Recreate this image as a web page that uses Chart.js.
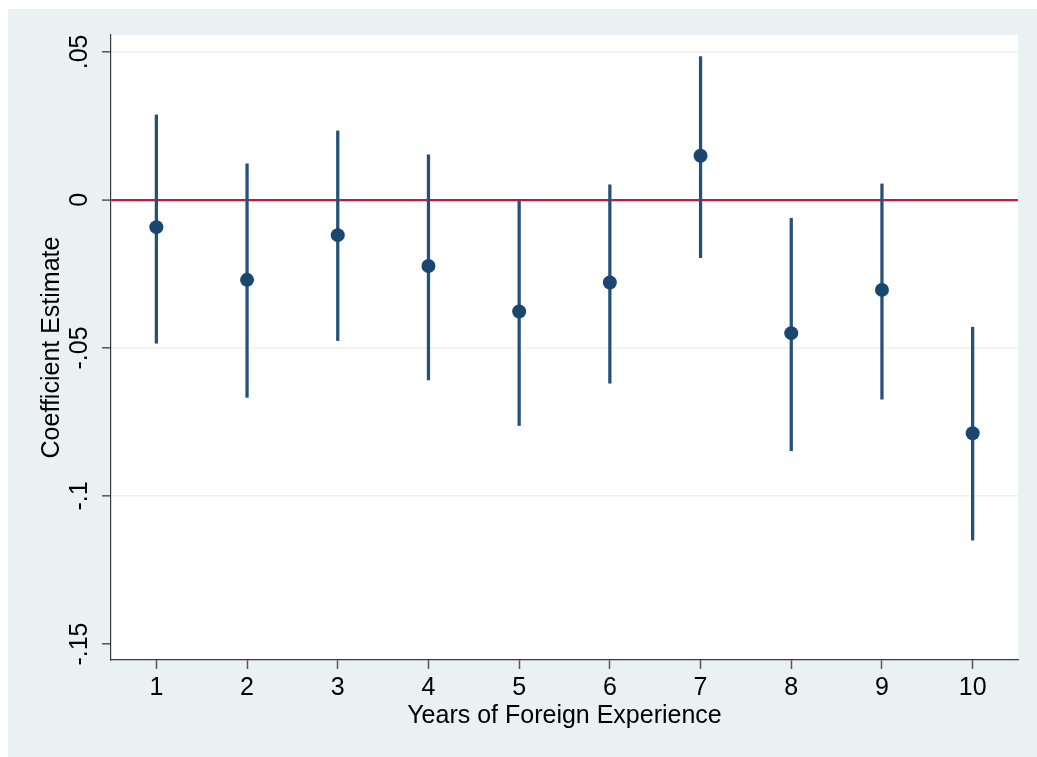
<!DOCTYPE html>
<html>
<head>
<meta charset="utf-8">
<script src="https://cdn.jsdelivr.net/npm/chart.js@4/dist/chart.umd.min.js"></script>
<style>
  html, body { margin: 0; padding: 0; background: #ffffff; }
  #frame { position: absolute; left: 8px; top: 9px; width: 1029px; height: 748px; background: #E9F1F3; }
  canvas { display: block; }
</style>
</head>
<body>
<div id="frame"><canvas id="coefPlot" width="1029" height="748"></canvas></div>
<script>
// Years of foreign experience and the estimated coefficient with its 95% interval
const years = [1, 2, 3, 4, 5, 6, 7, 8, 9, 10];
const estimates = [-0.0092, -0.0270, -0.0119, -0.0223, -0.0377, -0.0279, 0.0149, -0.0450, -0.0304, -0.0788];
const ciLower = [-0.0484, -0.0667, -0.0475, -0.0608, -0.0762, -0.0619, -0.0195, -0.0847, -0.0673, -0.1149];
const ciUpper = [0.0287, 0.0122, 0.0233, 0.0152, 0.0000, 0.0051, 0.0484, -0.0062, 0.0054, -0.0430];

// Axis ticks
const yTickValues = [-0.15, -0.1, -0.05, 0, 0.05];
const yTickLabels = ['-.15', '-.1', '-.05', '0', '.05'];
const xTickValues = years;

const NAVY = '#1A476F';
const BAR_NAVY = '#24507A';
const ZERO_RED = '#C8173F';
const GRID = '#EAF2F3';
const AXIS = '#3a3a3a';
const FONT = "'Liberation Sans', Arial, Helvetica, sans-serif";

// Paint the plot region white behind the marks
const plotBackground = {
  id: 'plotBackground',
  beforeDraw(chart) {
    const { ctx, chartArea: a } = chart;
    ctx.save();
    ctx.fillStyle = '#ffffff';
    ctx.fillRect(a.left, a.top, a.right - a.left, a.bottom - a.top);
    ctx.restore();
  }
};

new Chart(document.getElementById('coefPlot'), {
  type: 'scatter',
  data: {
    datasets: [
      {
        type: 'scatter',
        label: 'Estimate',
        data: years.map((x, i) => ({ x: x, y: estimates[i] })),
        pointRadius: 7,
        pointHoverRadius: 7,
        pointBackgroundColor: NAVY,
        pointBorderWidth: 0,
        order: 0
      },
      {
        type: 'bar',
        label: '95% CI',
        data: years.map((x, i) => ({ x: x, y: [ciLower[i], ciUpper[i]] })),
        backgroundColor: BAR_NAVY,
        borderWidth: 0,
        barThickness: 2.6,
        order: 1
      }
    ]
  },
  options: {
    responsive: false,
    animation: false,
    devicePixelRatio: 1,
    layout: { padding: { top: 26, right: 19, left: 0, bottom: 0 } },
    plugins: {
      legend: { display: false },
      tooltip: { enabled: false }
    },
    scales: {
      x: {
        type: 'linear',
        min: 0.5,
        max: 10.5,
        offset: false,
        afterBuildTicks(scale) { scale.ticks = xTickValues.map(v => ({ value: v })); },
        afterFit(scale) { scale.height = 97; },
        grid: {
          offset: false,
          drawOnChartArea: false,
          drawTicks: true,
          tickLength: 9,
          tickColor: '#555555',
          tickWidth: 1.5
        },
        border: { display: true, color: AXIS, width: 1.2 },
        ticks: {
          color: '#000000',
          font: { family: FONT, size: 25 },
          padding: 4.5,
          maxRotation: 0,
          minRotation: 0,
          autoSkip: false,
          callback: (v) => String(v)
        },
        title: {
          display: true,
          text: 'Years of Foreign Experience',
          color: '#000000',
          font: { family: FONT, size: 25 },
          padding: { top: 0, bottom: 26 }
        }
      },
      y: {
        type: 'linear',
        min: -0.1554,
        max: 0.0557,
        offset: false,
        afterBuildTicks(scale) { scale.ticks = yTickValues.map(v => ({ value: v })); },
        afterFit(scale) { scale.width = 103; },
        grid: {
          drawOnChartArea: true,
          drawTicks: true,
          tickLength: 9,
          tickColor: '#555555',
          tickWidth: 1.5,
          color: (c) => {
            const v = c.tick ? c.tick.value : null;
            if (v === 0) return ZERO_RED;
            if (v === -0.15) return 'rgba(0,0,0,0)';
            return GRID;
          },
          lineWidth: (c) => (c.tick && c.tick.value === 0 ? 2.2 : 1.6)
        },
        border: { display: true, color: AXIS, width: 1.2 },
        ticks: {
          color: '#000000',
          font: { family: FONT, size: 25 },
          padding: 0.5,
          minRotation: 90,
          maxRotation: 90,
          crossAlign: 'center',
          autoSkip: false,
          callback: (v) => {
            const k = yTickValues.findIndex(t => Math.abs(t - v) < 1e-9);
            return k >= 0 ? yTickLabels[k] : '';
          }
        },
        title: {
          display: true,
          text: 'Coefficient Estimate',
          color: '#000000',
          font: { family: FONT, size: 25 },
          padding: { top: 29.5, bottom: 0 }
        }
      }
    }
  },
  plugins: [plotBackground]
});
</script>
</body>
</html>
